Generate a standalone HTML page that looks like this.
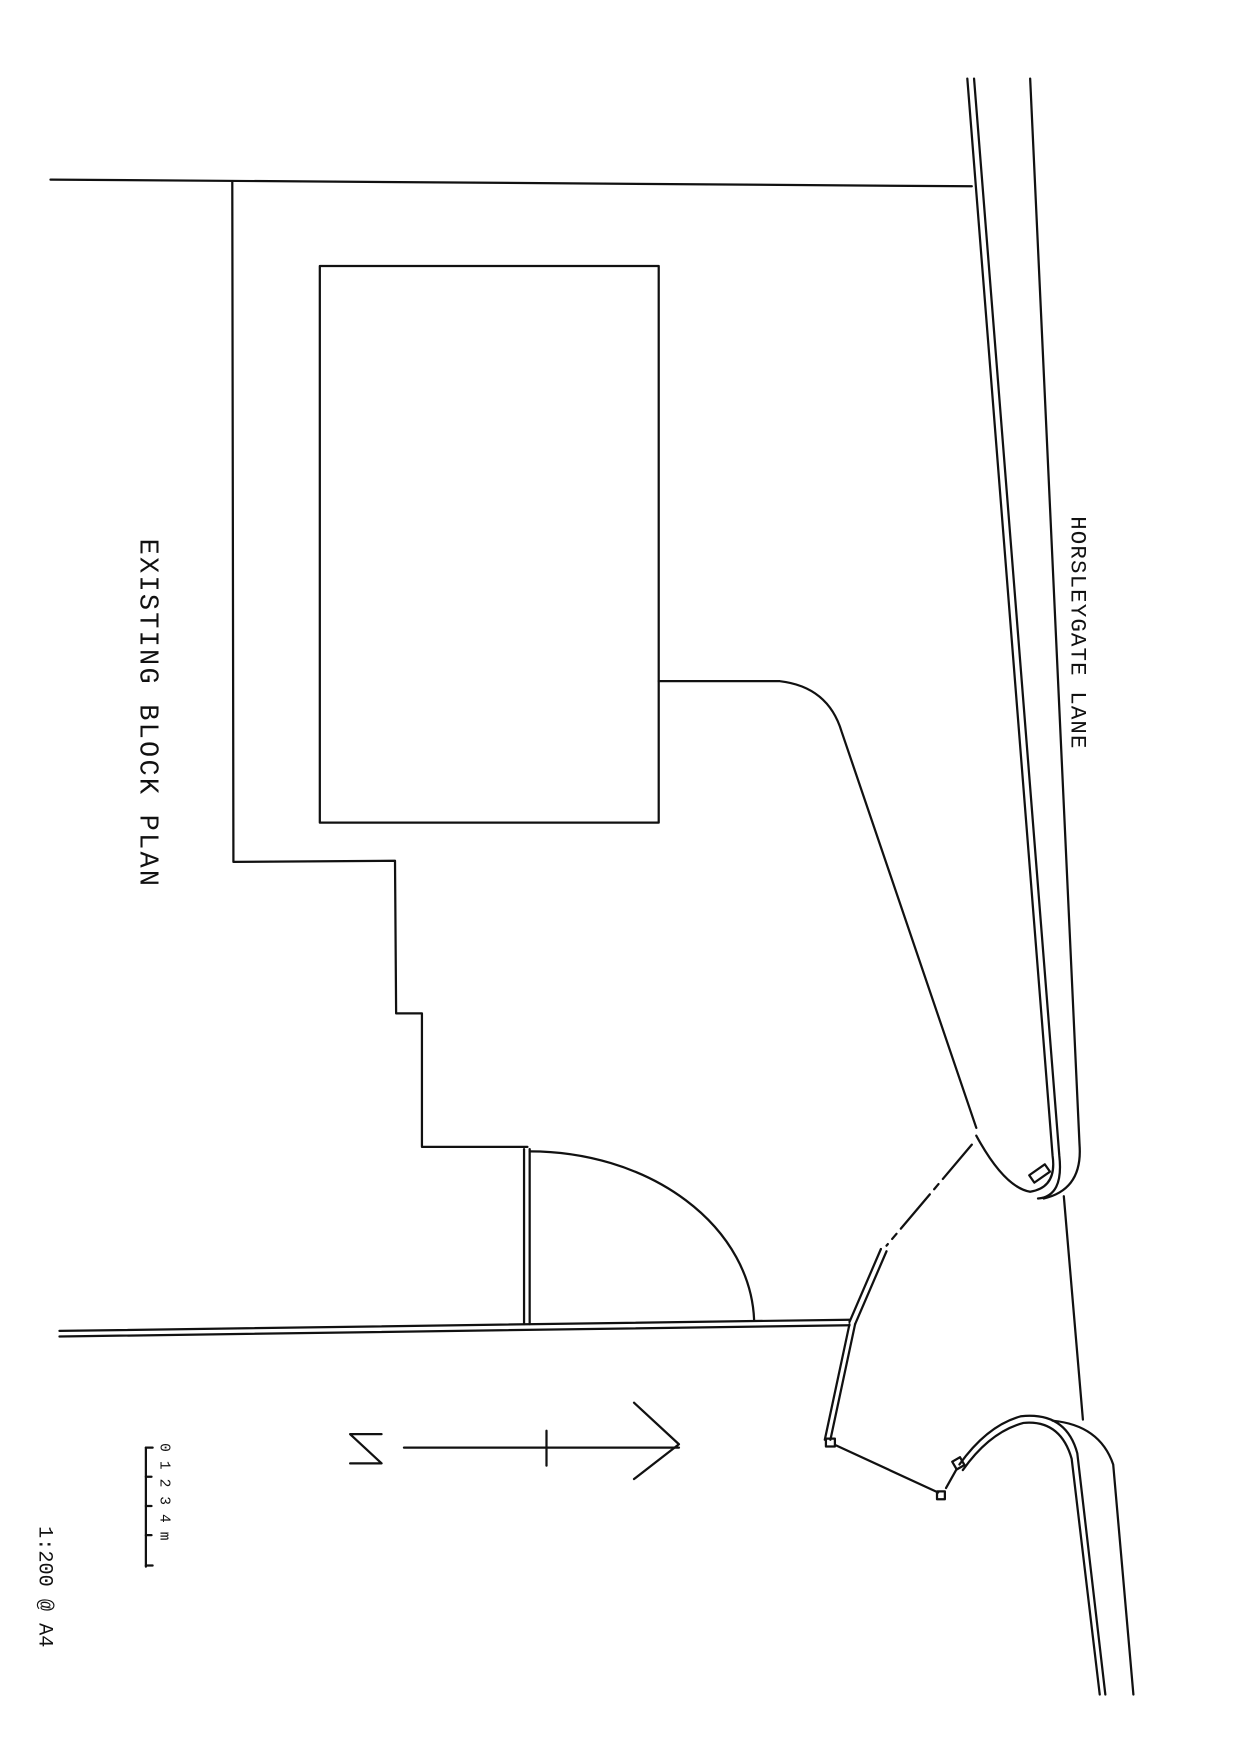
<!DOCTYPE html>
<html><head><meta charset="utf-8"><style>html,body{margin:0;padding:0;background:#fff}svg{display:block}</style></head>
<body>
<svg width="1240" height="1754" viewBox="0 0 1105 1563" xmlns="http://www.w3.org/2000/svg">
<g fill="none" stroke="#111" stroke-width="2" stroke-linecap="round" stroke-linejoin="round">
<!-- top boundary -->
<line x1="45" y1="160" x2="866" y2="166"/>
<!-- outer plot -->
<polyline points="207,162 208,768 352,767 353,903 376,903 376,1022 470,1022"/>
<line x1="467" y1="1024" x2="467" y2="1180"/>
<line x1="472" y1="1024" x2="472" y2="1180"/>
<path d="M472,1026 A200,155 0 0 1 672,1176"/>
<!-- bottom boundary double -->
<line x1="53" y1="1186" x2="757" y2="1176"/>
<line x1="53" y1="1191" x2="757" y2="1181"/>
<!-- building -->
<rect x="285" y="237" width="302" height="496"/>
<!-- driveway -->
<path d="M587,607 L695,607 Q738,612 750,652 L870,1005"/>
<!-- road upper kerb lines -->
<path d="M862,70 L938,1030 Q942,1058 918,1062 Q895,1058 870,1012"/>
<path d="M868,70 L944,1030 Q948,1066 925,1068"/>
<path d="M918,70 L962,1020 Q965,1060 930,1068"/>
<line x1="948" y1="1066" x2="965" y2="1265"/>
<rect x="918" y="1042" width="17" height="8" transform="rotate(-35 926 1046)"/>
<!-- lower U -->
<path d="M855,1305 Q880,1270 910,1262 Q950,1258 960,1295 L985,1510"/>
<path d="M858,1310 Q882,1276 912,1268 Q945,1265 955,1300 L980,1510"/>
<path d="M938,1266 Q980,1270 992,1305 L1010,1510"/>
<!-- gate / fences -->
<path d="M866,1020 L790,1110" stroke-dasharray="40,6,6,6"/>
<line x1="785" y1="1113" x2="757" y2="1178"/>
<line x1="790" y1="1115" x2="762" y2="1180"/>
<line x1="757" y1="1180" x2="735" y2="1283"/>
<line x1="762" y1="1180" x2="740" y2="1283"/>
<rect x="736" y="1282" width="8" height="7"/>
<line x1="745" y1="1288" x2="836" y2="1330"/>
<rect x="835" y="1329" width="7" height="7"/>
<line x1="843" y1="1326" x2="852" y2="1310"/>
<rect x="850" y="1300" width="8" height="8" transform="rotate(-30 854 1304)"/>
<!-- north arrow -->
<line x1="360" y1="1290" x2="605" y2="1290"/>
<polyline points="565,1250 605,1287 565,1318"/>
<line x1="487" y1="1275" x2="487" y2="1306"/>
<polyline points="340,1278 312,1278 340,1304 312,1304"/>
<!-- scale bar -->
<line x1="130" y1="1290" x2="130" y2="1396"/>
<line x1="130" y1="1290" x2="136" y2="1290"/>
<line x1="130" y1="1316" x2="135" y2="1316"/>
<line x1="130" y1="1342" x2="135" y2="1342"/>
<line x1="130" y1="1368" x2="135" y2="1368"/>
<line x1="130" y1="1395" x2="136" y2="1395"/>
</g>
<g font-family="Liberation Mono, monospace" fill="#111">
<text x="125" y="480" font-size="24" transform="rotate(90 125 480)" letter-spacing="2">EXISTING BLOCK PLAN</text>
<text x="955" y="460" font-size="20" transform="rotate(90 955 460)" letter-spacing="1">HORSLEYGATE  LANE</text>
<text x="143" y="1286" font-size="13" transform="rotate(90 143 1286)" letter-spacing="8">01234m</text>
<text x="35" y="1360" font-size="18" transform="rotate(90 35 1360)">1:200 @ A4</text>
</g>
</svg>
</body></html>
